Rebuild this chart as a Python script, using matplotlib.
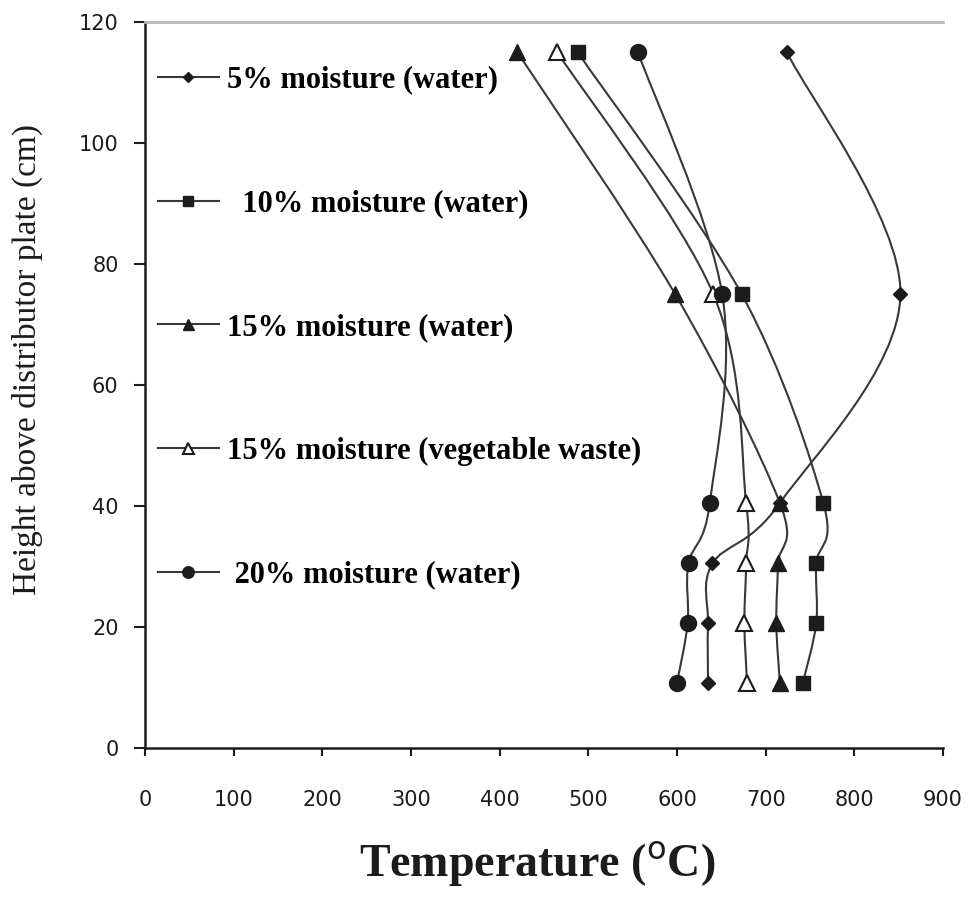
import numpy as np
import matplotlib.pyplot as plt
from matplotlib.path import Path
from matplotlib.patches import PathPatch
from matplotlib.lines import Line2D

# measurement heights above the distributor plate (cm)
height = [115, 75, 40.5, 30.5, 20.6, 10.8]

# bed temperature (deg C) at each height
t_5_water = [724, 852, 716, 640, 635, 635]
t_10_water = [488, 673, 765, 757, 757, 742]
t_15_water = [420, 598, 716, 714, 712, 716]
t_15_veg = [465, 641, 678, 678, 676, 679]
t_20_water = [556, 651, 637, 613, 612, 600]

labels = ["5% moisture (water)", "  10% moisture (water)", "15% moisture (water)",
          "15% moisture (vegetable waste)", " 20% moisture (water)"]

x_ticks = [0, 100, 200, 300, 400, 500, 600, 700, 800, 900]
y_ticks = [0, 20, 40, 60, 80, 100, 120]

ink = "#1c1c1c"
line_col = "#383838"
frame_col = "#b8b8b8"

series = [
    (t_5_water, dict(marker="D", ms=7.5, mfc=ink, mec=ink)),
    (t_10_water, dict(marker="s", ms=10, mfc=ink, mec=ink)),
    (t_15_water, dict(marker="^", ms=11, mfc=ink, mec=ink)),
    (t_15_veg, dict(marker="^", ms=11, mfc="white", mec=ink, mew=1.5)),
    (t_20_water, dict(marker="o", ms=11.5, mfc=ink, mec=ink)),
]


def smooth_path(ax, xs, ys):
    # Catmull-Rom style bezier through the points, built in pixel space
    pts = ax.transData.transform(np.column_stack([xs, ys]))
    n = len(pts)
    verts = [pts[0]]
    codes = [Path.MOVETO]
    for i in range(n - 1):
        p0 = pts[max(i - 1, 0)]
        p3 = pts[min(i + 2, n - 1)]
        c1 = pts[i] + (pts[i + 1] - p0) / 6
        c2 = pts[i + 1] - (p3 - pts[i]) / 6
        verts += [c1, c2, pts[i + 1]]
        codes += [Path.CURVE4] * 3
    verts = ax.transData.inverted().transform(np.array(verts))
    return Path(verts, codes)


fig = plt.figure(figsize=(9.72, 8.98), dpi=100)
ax = fig.add_axes([145 / 972, 1 - 748 / 898, 798 / 972, 726 / 898])
ax.set_xlim(0, 900)
ax.set_ylim(0, 120)

for temps, style in series:
    ax.add_patch(PathPatch(smooth_path(ax, temps, height), fill=False,
                           ec=line_col, lw=1.5, zorder=2))
    ax.plot(temps, height, ls="none", zorder=3, **style)

handles = []
for temps, style in series:
    st = dict(style)
    st["ms"] = st["ms"] * 0.72
    handles.append(Line2D([], [], color=line_col, lw=1.5, **st))

ax.legend(handles, labels, loc="upper left", bbox_to_anchor=(0.016, 0.94),
          frameon=False, labelspacing=3.1, handlelength=2.0, handletextpad=0.28,
          borderaxespad=0, borderpad=0,
          prop=dict(family="Liberation Serif", weight="bold", size=22))

ax.spines["right"].set_visible(False)
ax.spines["top"].set_color(frame_col)
ax.spines["top"].set_linewidth(2)
for side in ["left", "bottom"]:
    ax.spines[side].set_linewidth(1.8)
    ax.spines[side].set_color(ink)

ax.set_xticks(x_ticks)
ax.set_yticks(y_ticks)
ax.tick_params(axis="x", direction="out", length=6, width=1.5, pad=24,
               labelsize=15, colors=ink)
ax.tick_params(axis="y", direction="out", length=8, width=1.5, pad=11,
               labelsize=15, colors=ink)
for lab in ax.get_xticklabels() + ax.get_yticklabels():
    lab.set_fontfamily("DejaVu Sans")

ax.set_xlabel("Temperature ($^{\\mathrm{o}}$C)", fontfamily="Liberation Serif",
              fontweight="bold", fontsize=33, color=ink)
ax.xaxis.set_label_coords(0.491, -0.126)
ax.set_ylabel("Height above distributor plate (cm)", fontfamily="Liberation Serif",
              fontsize=24, color=ink)
ax.yaxis.set_label_coords(-0.128, 0.535)

fig.savefig("out.png", dpi=100)
